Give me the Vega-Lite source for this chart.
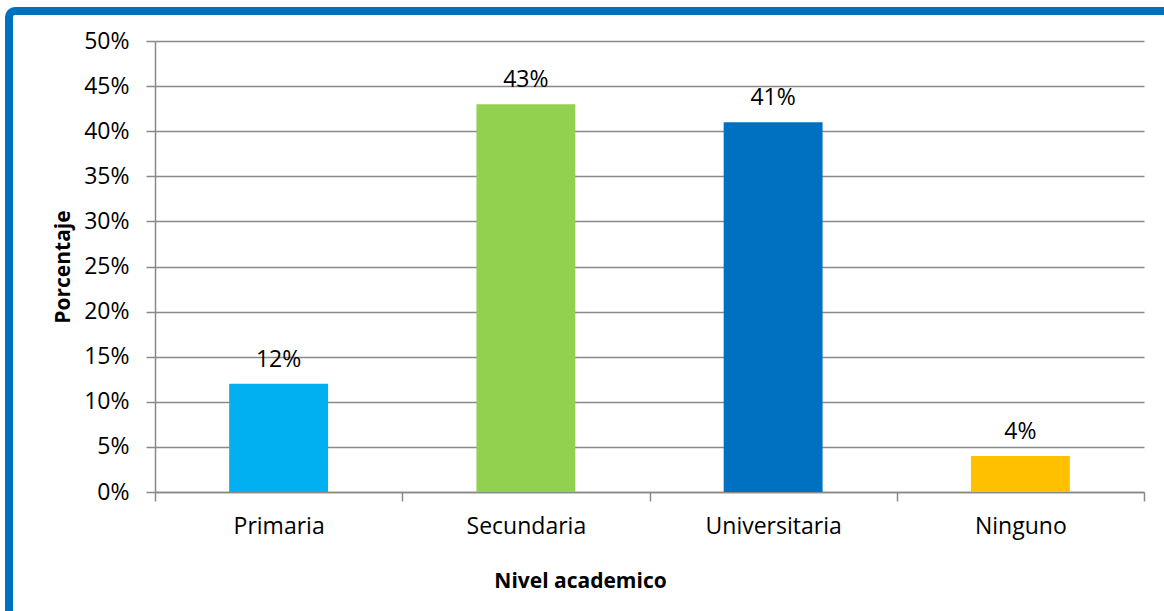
{
  "$schema": "https://vega.github.io/schema/vega-lite/v6.json",
  "width": 1170,
  "height": 620,
  "autosize": {"type": "none"},
  "padding": {"left": 9, "top": 11, "right": 0, "bottom": 0},
  "background": "white",
  "config": {
    "view": {"stroke": "#0070C0", "strokeWidth": 8, "cornerRadius": 6, "fill": "white"},
    "font": "Open Sans"
  },
  "data": {
    "values": [
      {"nivel": "Primaria", "pct": 0.12},
      {"nivel": "Secundaria", "pct": 0.43},
      {"nivel": "Universitaria", "pct": 0.41},
      {"nivel": "Ninguno", "pct": 0.04}
    ]
  },
  "encoding": {
    "x": {
      "field": "nivel",
      "type": "nominal",
      "sort": null,
      "scale": {"range": [146, 1135], "paddingInner": 0, "paddingOuter": 0},
      "axis": {
        "title": "Nivel academico",
        "offset": -139,
        "grid": false,
        "labelAngle": 0,
        "labelFontSize": 23,
        "labelColor": "#000000",
        "labelPadding": 14,
        "domainColor": "#898989",
        "domainWidth": 1.5,
        "tickColor": "#898989",
        "tickWidth": 1.5,
        "tickSize": 9,
        "tickBand": "extent",
        "titleFontSize": 21,
        "titleFontWeight": "bold",
        "titleColor": "#000000",
        "titleX": 571,
        "titleY": 95,
        "titleBaseline": "alphabetic",
        "titleAnchor": null
      }
    },
    "y": {
      "field": "pct",
      "type": "quantitative",
      "scale": {"domain": [0, 0.5], "range": [481, 30], "nice": false, "zero": true},
      "axis": {
        "title": "Porcentaje",
        "offset": -146,
        "values": [0, 0.05, 0.1, 0.15, 0.2, 0.25, 0.3, 0.35, 0.4, 0.45, 0.5],
        "format": ".0%",
        "grid": true,
        "gridColor": "#898989",
        "gridWidth": 1.5,
        "domainColor": "#898989",
        "domainWidth": 1.5,
        "tickColor": "#898989",
        "tickWidth": 1.5,
        "tickSize": 9,
        "labelFontSize": 23,
        "labelColor": "#000000",
        "labelPadding": 17,
        "titleFontSize": 21,
        "titleFontWeight": "bold",
        "titleColor": "#000000",
        "titlePadding": 10
      }
    }
  },
  "layer": [
    {
      "mark": {"type": "bar", "width": {"band": 0.4}},
      "encoding": {
        "color": {
          "field": "nivel",
          "type": "nominal",
          "scale": {
            "domain": ["Primaria", "Secundaria", "Universitaria", "Ninguno"],
            "range": ["#00B0F0", "#92D050", "#0070C0", "#FFC000"]
          },
          "legend": null
        }
      }
    },
    {
      "mark": {"type": "text", "baseline": "alphabetic", "dy": -17, "fontSize": 23, "color": "#000000"},
      "encoding": {"text": {"field": "pct", "type": "quantitative", "format": ".0%"}}
    }
  ]
}
